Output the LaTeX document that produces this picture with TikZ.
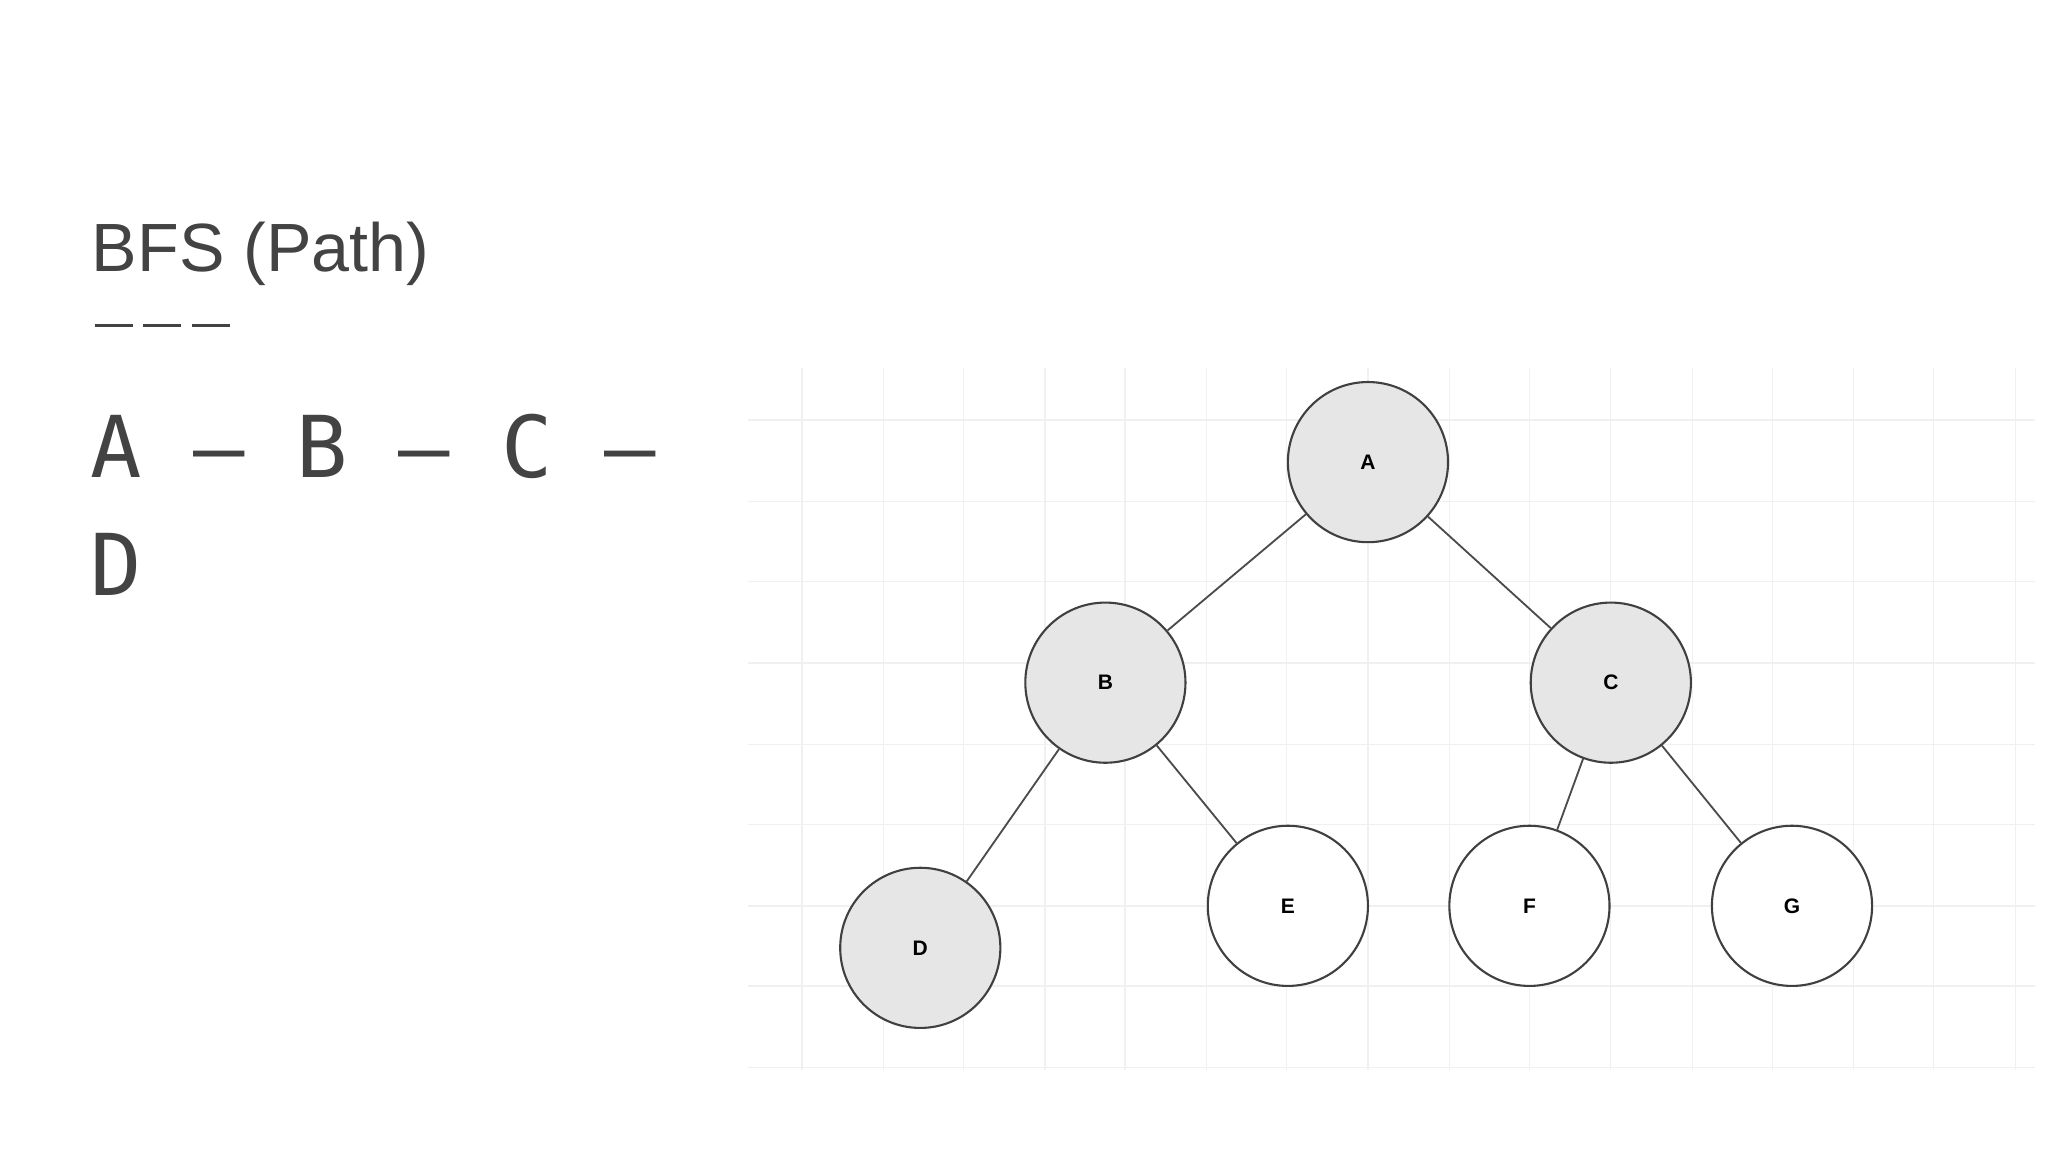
\documentclass[tikz,border=0pt]{standalone}
\usepackage{fontspec}
\setmainfont{Liberation Sans}
\newfontfamily\monof{DejaVu Sans Mono}
\definecolor{txt}{HTML}{434343}
\definecolor{nodefill}{HTML}{E6E6E6}
\definecolor{gridc}{HTML}{F0F0F0}
\begin{document}
\begin{tikzpicture}[x=0.5pt,y=-0.5pt,
  tnode/.style={circle,draw=black!75,line width=0.8pt,minimum size=61pt,inner sep=0pt,font=\bfseries\fontsize{8}{8}\selectfont},
  visited/.style={tnode,fill=nodefill},
  fresh/.style={tnode,fill=white},
  edge/.style={draw=black!70,line width=0.7pt},
  dashbar/.style={draw=txt,line width=1.2pt}]
\useasboundingbox (0,0) rectangle (1560,877);
\fill[white] (0,0) rectangle (1560,877);
\foreach \gx in {611,673,734,796,857,919,980,1042,1104,1165,1227,1289,1350,1412,1473,1535}
  \draw[gridc,line width=0.5pt] (\gx,280) -- (\gx,815);
\foreach \gy in {320,382,443,505,567,628,690,751,813}
  \draw[gridc,line width=0.5pt] (570,\gy) -- (1550,\gy);
\node[anchor=west,text=txt,font=\fontsize{26}{26}\selectfont] (title) at (63,193) {BFS (Path)};
\coordinate (r1) at (72,248); \coordinate (r2) at (101,248);
\coordinate (r3) at (109,248); \coordinate (r4) at (138,248);
\coordinate (r5) at (146,248); \coordinate (r6) at (175,248);
\draw[dashbar] (r1) -- (r2); \draw[dashbar] (r3) -- (r4); \draw[dashbar] (r5) -- (r6);
\node[anchor=west,text=txt,font=\monof\fontsize{32.5}{32.5}\selectfont] (l1) at (62,340) {A – B – C –};
\node[anchor=west,text=txt,font=\monof\fontsize{32.5}{32.5}\selectfont] (l2) at (62,430) {D};
\node[visited] (A) at (1042,352) {A};
\node[visited] (B) at (842,520) {B};
\node[visited] (C) at (1227,520) {C};
\node[visited] (D) at (701,722) {D};
\node[fresh] (E) at (981,690) {E};
\node[fresh] (F) at (1165,690) {F};
\node[fresh] (G) at (1365,690) {G};
\draw[edge] (A) -- (B);
\draw[edge] (A) -- (C);
\draw[edge] (B) -- (D);
\draw[edge] (B) -- (E);
\draw[edge] (C) -- (F);
\draw[edge] (C) -- (G);
\end{tikzpicture}
\end{document}
